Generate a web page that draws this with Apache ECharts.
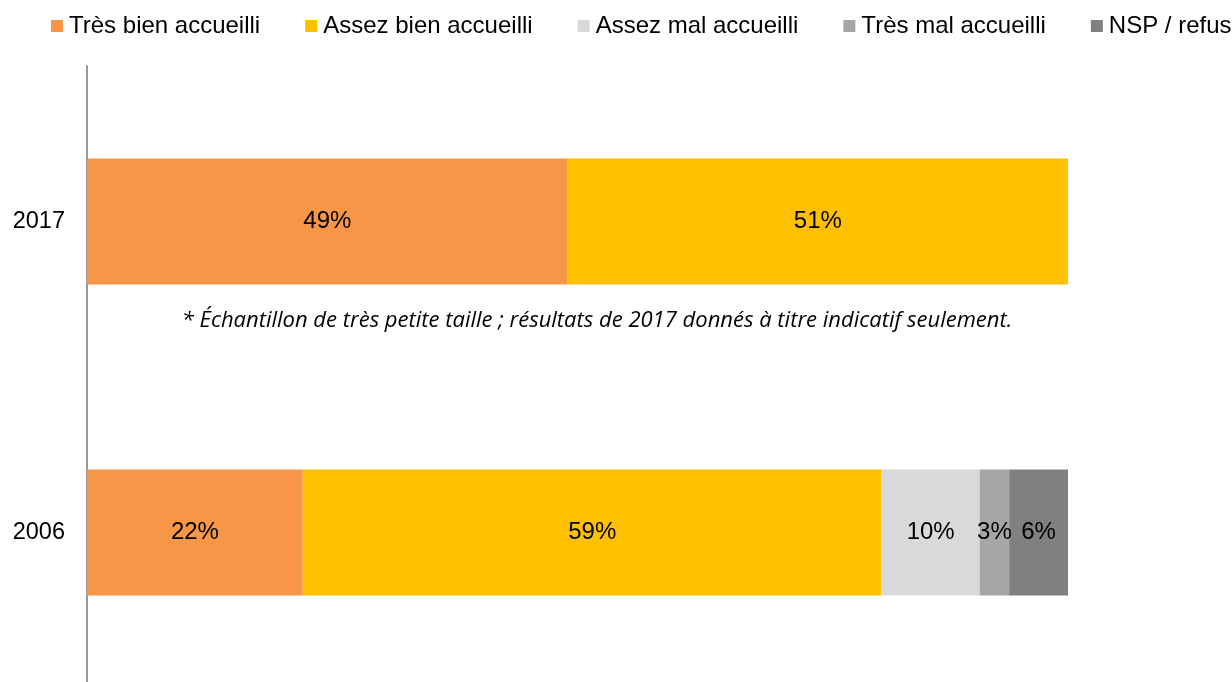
<!DOCTYPE html>
<html><head><meta charset="utf-8">
<script src="https://cdn.jsdelivr.net/npm/echarts@6/dist/echarts.min.js"></script>
<style>html,body{margin:0;padding:0;background:#fff;overflow:hidden}#c{width:1232px;height:690px}</style>
</head><body><div id="c"></div>
<script>
const categories = ['2006', '2017'];
const seriesNames = ['Très bien accueilli', 'Assez bien accueilli', 'Assez mal accueilli', 'Très mal accueilli', 'NSP / refus'];
const tresBien = [22, 49];
const assezBien = [59, 51];
const assezMal = [10, 0];
const tresMal = [3, 0];
const nsp = [6, 0];
const colors = ['#F79646', '#FFC000', '#D9D9D9', '#A6A6A6', '#808080'];
const note = '* Échantillon de très petite taille ; résultats de 2017 donnés à titre indicatif seulement.';

const values = [tresBien, assezBien, assezMal, tresMal, nsp];
const chart = echarts.init(document.getElementById('c'));
chart.setOption({
  animation: false,
  color: colors,
  legend: {
    top: 14, left: 51, padding: 0, width: 1181,
    itemWidth: 12, itemHeight: 12, itemGap: 45,
    icon: 'rect',
    textStyle: {fontFamily: 'Liberation Sans', fontSize: 24, color: '#000', padding: [0, 0, 0, 1]},
    data: seriesNames
  },
  grid: {left: 87, right: 164, top: 66, bottom: 2, containLabel: false},
  xAxis: {type: 'value', min: 0, max: 100, show: false},
  yAxis: {
    type: 'category', data: categories,
    axisLine: {show: true, lineStyle: {color: '#999', width: 2}},
    axisTick: {show: false},
    axisLabel: {fontFamily: 'Liberation Sans', fontSize: 23.5, color: '#000', margin: 22}
  },
  series: seriesNames.map((n, i) => ({
    name: n, type: 'bar', stack: 'total', barWidth: 126,
    data: values[i].map(v => v === 0 ? null : v),
    label: {show: true, position: 'inside', formatter: p => p.value + '%',
      fontFamily: 'Liberation Sans', fontSize: 24, color: '#000'}
  })),
  graphic: [{
    type: 'text', x: 597, y: 321,
    style: {text: note, align: 'center', verticalAlign: 'middle', fontFamily: 'Open Sans', fontStyle: 'italic', fontSize: 22, fill: '#000'}
  }]
});
</script></body></html>
